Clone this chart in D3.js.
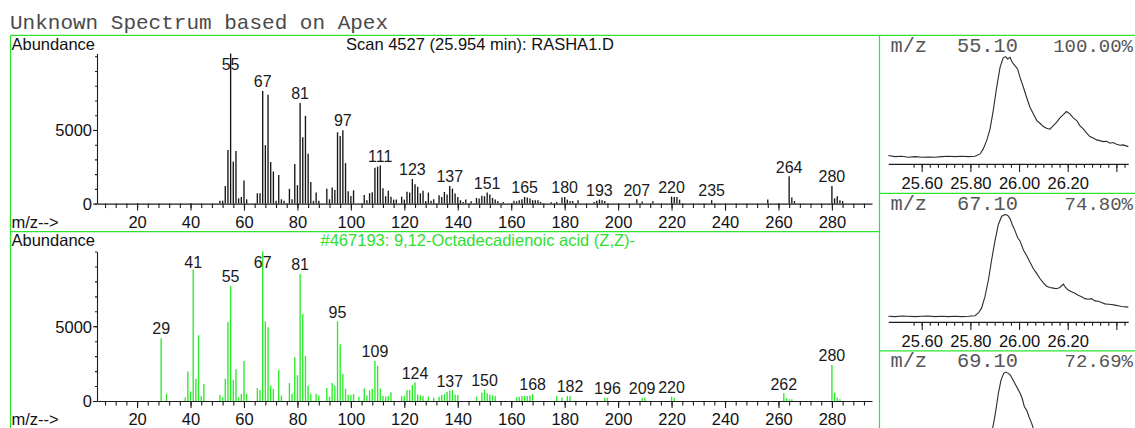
<!DOCTYPE html>
<html>
<head>
<meta charset="utf-8">
<script src="https://cdn.jsdelivr.net/npm/d3@7"></script>
<style>
  html, body { margin: 0; padding: 0; background: #fff; }
  svg { display: block; }
</style>
</head>
<body>
<svg id="chart" width="1135" height="428"></svg>
<script>
// ---------- Scan 4527 (unknown spectrum) ----------
const scanMz = [51,52,53,54,55,56,57,58,59,60,61,65,66,67,68,69,70,71,72,73,74,75,77,78,79,80,81,82,83,84,85,86,87,88,
  91,92,93,94,95,96,97,98,99,100,101,105,106,107,108,109,110,111,112,113,114,115,116,117,119,120,121,122,123,124,125,
  126,127,128,129,130,131,133,134,135,136,137,138,139,140,141,142,143,145,147,148,149,150,151,152,153,154,155,157,
  161,162,163,164,165,166,167,168,169,170,171,175,177,179,180,181,182,183,185,191,192,193,194,195,207,209,213,
  220,221,222,223,235,256,264,265,266,280,281,282,283,284];
const scanAbund = [200,200,1190,3640,10190,2850,3570,360,450,1560,290,700,700,7640,3970,7390,2820,2180,190,1950,290,200,
  1000,290,2690,1250,6830,4510,5960,3390,1470,190,760,200,
  1000,290,1090,920,4840,4590,4980,2750,840,520,900,590,220,700,770,2440,2510,2580,1040,500,880,470,270,270,470,270,810,750,1670,1310,1150,
  700,880,180,750,200,290,560,450,790,610,1200,1020,680,450,230,110,270,160,380,340,540,500,750,610,380,270,180,110,
  200,160,230,290,450,410,340,230,230,230,110,90,110,410,450,270,180,180,230,110,200,270,230,180,290,140,160,
  470,450,450,270,230,270,1850,410,180,1200,360,500,230,180];
const scanPeakLabels = [55,67,81,97,111,123,137,151,165,180,193,207,220,235,264,280];

// ---------- Library hit #467193 ----------
const libMz = [29,31,38,39,40,41,42,43,44,45,51,52,53,54,55,56,57,58,59,60,61,65,66,67,68,69,70,71,73,74,77,78,79,80,81,82,83,84,85,87,88,
  91,92,93,94,95,96,97,98,99,100,101,103,105,106,107,108,109,110,111,112,113,114,115,119,120,121,122,123,124,125,126,127,129,
  131,133,134,135,136,137,138,139,140,147,149,150,151,152,153,154,162,163,164,165,166,167,168,177,179,181,182,
  195,196,209,210,220,221,262,263,264,265,280,281,282,283];
const libAbund = [4200,490,240,1980,640,8800,1490,4400,310,1130,400,240,1510,5290,7690,1420,2130,240,470,2670,490,870,730,9999,5330,4930,1040,800,2070,360,1200,490,2930,1730,8490,5820,3000,1040,490,490,360,
  870,290,1200,1040,5330,3800,1820,820,420,400,470,290,840,360,710,800,2670,2360,840,330,290,330,580,330,330,730,730,1070,1240,440,380,330,290,
  220,290,400,470,620,710,730,440,400,290,560,760,510,440,380,330,240,290,330,330,330,360,470,330,240,330,330,
  220,220,220,220,290,220,510,180,110,110,2400,560,220,110];
const libPeakLabels = [29,41,55,67,81,95,109,124,137,150,168,182,196,209,220,262,280];

const mzTickLabels = [20,40,60,80,100,120,140,160,180,200,220,240,260,280];
const abundTickLabels = [0, 5000];

// ---------- Extracted ion traces ----------
const ionMz = ["55.10", "67.10", "69.10"];
const ionPercent = ["100.00%", "74.80%", "72.69%"];
const ionTimeTickLabels = ["25.60", "25.80", "26.00", "26.20"];

const ion55Time = [25.463,25.490,25.518,25.545,25.573,25.600,25.627,25.655,25.682,25.710,25.737,25.764,25.792,25.819,
  25.840,25.853,25.867,25.881,25.894,25.908,25.922,25.935,25.945,25.953,25.963,25.972,25.983,25.994,26.004,26.018,
  26.031,26.045,26.059,26.073,26.086,26.100,26.113,26.127,26.141,26.154,26.168,26.182,26.195,26.209,26.223,26.237,
  26.250,26.264,26.278,26.291,26.305,26.319,26.332,26.346,26.360,26.374,26.387,26.401,26.415,26.428,26.449];
const ion55Int = [7.8,6.8,7.1,6.2,6.8,6.2,6.5,6.2,6.8,7.1,6.8,7.1,6.8,7.1,
  9.3,14.0,21.7,32.6,49.7,71.4,90.0,98.8,100,97.8,99.4,94.7,91.6,88.5,80.7,71.4,
  62.1,52.8,46.6,40.4,37.9,34.8,33.2,32.3,35.7,38.8,42.9,46.0,48.8,46.6,42.9,40.4,
  35.7,32.6,28.6,25.5,24.2,22.4,21.7,20.8,21.1,19.3,19.9,18.3,17.4,17.7,16.1];

const ion67Time = [25.463,25.490,25.518,25.545,25.573,25.600,25.627,25.655,25.682,25.710,25.737,25.764,25.792,25.819,
  25.833,25.846,25.860,25.874,25.887,25.901,25.915,25.929,25.942,25.953,25.963,25.972,25.983,25.994,26.004,26.018,
  26.031,26.045,26.059,26.073,26.086,26.100,26.113,26.127,26.141,26.154,26.168,26.182,26.191,26.202,26.216,26.230,
  26.243,26.257,26.271,26.284,26.298,26.312,26.326,26.339,26.353,26.367,26.380,26.394,26.408,26.421,26.449];
const ion67Int = [5.2,4.9,5.5,5.2,4.9,5.2,5.5,4.9,5.2,4.9,5.2,4.9,5.2,5.8,
  8.3,12.8,23.5,38.8,57.2,75.5,90.8,98.5,100,99.4,96.3,90.8,85.3,78.6,75.5,67.0,
  61.8,55.7,49.5,45.0,40.4,36.4,33.3,32.1,31.5,30.9,32.1,35.2,32.1,29.7,28.1,26.6,
  24.8,23.5,21.7,21.1,21.7,19.6,19.3,18.0,16.8,16.5,16.2,15.6,15.0,14.4,13.8];

const ion69Time = [25.890,25.898,25.907,25.915,25.926,25.937,25.946,25.956,25.964,25.972,25.983,25.994,26.005,26.013,
  26.022,26.031,26.041,26.052,26.063];
const ion69Int = [46.0,55.3,67.7,80.1,92.5,98.8,100,98.8,97.2,94.1,89.4,84.8,80.1,75.4,67.7,64.6,58.4,52.2,44.4];

// ---------- drawing ----------
const W = 1135, H = 428;
const svg = d3.select("#chart");
const GREEN = "#2fe32f";
const BAR_GREEN = "#27ec27";
const INK = "#1c1c1c";
const SANS = "'Liberation Sans', Arial, Helvetica, sans-serif";
const MONO = "'Liberation Mono', 'Courier New', monospace";

svg.append("rect").attr("width", W).attr("height", H).attr("fill", "#fff");

// page heading
svg.append("text")
  .attr("x", 10).attr("y", 29.3)
  .attr("font-family", MONO).attr("font-size", 21)
  .attr("fill", "#4a4a4a")
  .text("Unknown Spectrum based on Apex");

// frame lines
const frame = svg.append("g").attr("stroke", GREEN).attr("stroke-width", 1.2).attr("fill", "none");
frame.append("line").attr("x1", 10.5).attr("x2", W).attr("y1", 35.3).attr("y2", 35.3);
frame.append("line").attr("x1", 10.5).attr("x2", 10.5).attr("y1", 35.3).attr("y2", H);
frame.append("line").attr("x1", 879.5).attr("x2", 879.5).attr("y1", 35.3).attr("y2", H);
frame.append("line").attr("x1", 10.5).attr("x2", 879.5).attr("y1", 231.7).attr("y2", 231.7);

const mzScale = d3.scaleLinear().domain([5, 295]).range([97, 872]);

function spectrum(cfg) {
  const g = svg.append("g");
  const y = d3.scaleLinear().domain([0, d3.max(cfg.abund)]).range([cfg.plotBottom, cfg.plotTop]);

  // headings
  g.append("text").attr("x", 11.5).attr("y", cfg.frameTop + 14.3)
    .attr("font-family", SANS).attr("font-size", 16.5).attr("fill", "#111").text("Abundance");
  g.append("text").attr("x", cfg.titleX).attr("y", cfg.frameTop + 14.3)
    .attr("font-family", SANS).attr("font-size", 16.5).attr("fill", cfg.titleColor).text(cfg.title);
  g.append("text").attr("x", 11.5).attr("y", cfg.plotBottom + 24)
    .attr("font-family", SANS).attr("font-size", 16.5).attr("fill", "#111").text("m/z-->");

  // bars
  const bars = cfg.mz.map((m, i) => ({ mz: m, v: cfg.abund[i] }));
  g.append("g").selectAll("line").data(bars).join("line")
    .attr("x1", d => mzScale(d.mz)).attr("x2", d => mzScale(d.mz))
    .attr("y1", y(0)).attr("y2", d => y(d.v))
    .attr("stroke", cfg.barColor).attr("stroke-width", 1.35);

  // axes
  const minorX = d3.axisBottom(mzScale).tickValues(d3.range(8, 293, 4)).tickSize(4.5).tickSizeOuter(0).tickFormat("");
  const majorX = d3.axisBottom(mzScale).tickValues(mzTickLabels).tickSize(7).tickSizeOuter(0).tickFormat(d3.format("d"));
  const minorY = d3.axisLeft(y).tickValues(d3.range(0, 10001, 1000)).tickSize(2).tickSizeOuter(0).tickFormat("");
  const majorY = d3.axisLeft(y).tickValues(abundTickLabels).tickSize(4).tickSizeOuter(0).tickFormat(d3.format("d"));

  const gx1 = g.append("g").attr("transform", `translate(0,${cfg.plotBottom})`).call(minorX);
  const gx2 = g.append("g").attr("transform", `translate(0,${cfg.plotBottom})`).call(majorX);
  gx2.select(".domain").remove();
  const gy1 = g.append("g").attr("transform", "translate(97,0)").call(minorY);
  const gy2 = g.append("g").attr("transform", "translate(97,0)").call(majorY);
  gy2.select(".domain").remove();
  [gx1, gx2, gy1, gy2].forEach(a => a.attr("color", INK).selectAll("path,line").attr("stroke-width", 1.1));
  gx2.selectAll("text").attr("y", 24).attr("dy", 0)
    .attr("font-family", SANS).attr("font-size", 16.5).attr("fill", "#111");
  gy2.selectAll("text").attr("x", -5).attr("dy", "0.36em")
    .attr("font-family", SANS).attr("font-size", 16.5).attr("fill", "#111");

  // peak labels
  const labelData = cfg.labels.map(m => ({ mz: m, v: cfg.abund[cfg.mz.indexOf(m)] }));
  g.append("g").selectAll("text").data(labelData).join("text")
    .attr("x", d => mzScale(d.mz))
    .attr("y", d => Math.max(y(d.v) - 3.8, cfg.plotTop + 16.5))
    .attr("text-anchor", "middle")
    .attr("font-family", SANS).attr("font-size", 16).attr("fill", "#1a1a1a")
    .text(d => d.mz);
}

spectrum({
  frameTop: 35.3, plotTop: 53.5, plotBottom: 203.6,
  mz: scanMz, abund: scanAbund, labels: scanPeakLabels,
  barColor: "#151515",
  title: "Scan 4527 (25.954 min): RASHA1.D", titleColor: "#111", titleX: 346
});
spectrum({
  frameTop: 231.7, plotTop: 251.5, plotBottom: 401,
  mz: libMz, abund: libAbund, labels: libPeakLabels,
  barColor: BAR_GREEN,
  title: "#467193: 9,12-Octadecadienoic acid (Z,Z)-", titleColor: "#2ee02e", titleX: 320.5
});

// ion chromatogram panels
const ionX = d3.scaleLinear().domain([25.6, 26.2]).range([921.7, 1067.7]);
const ionAxisEnds = [25.4625, 26.4485];
const ionPanelTops = [35.3, 193.3, 350.8];
const ionTraces = [
  { t: ion55Time, v: ion55Int },
  { t: ion67Time, v: ion67Int },
  { t: ion69Time, v: ion69Int }
];

const clip = svg.append("defs").append("clipPath").attr("id", "ionclip");
clip.append("rect").attr("x", 880).attr("y", 0).attr("width", 255).attr("height", H);

ionPanelTops.forEach((top, i) => {
  const g = svg.append("g").attr("clip-path", "url(#ionclip)");
  const y = d3.scaleLinear().domain([0, 100]).range([top + 128.6, top + 21.3]);

  if (i > 0) {
    g.append("line").attr("x1", 879.5).attr("x2", W).attr("y1", top).attr("y2", top)
      .attr("stroke", GREEN).attr("stroke-width", 1.2);
  }

  // heading: m/z, ion mass, relative percentage
  const head = g.append("g").attr("font-family", MONO).attr("fill", "#555");
  head.append("text").attr("x", 890.5).attr("y", top + 16.3).attr("font-size", 20.3).text("m/z");
  head.append("text").attr("x", 957).attr("y", top + 16.3).attr("font-size", 20.3).text(ionMz[i]);
  head.append("text").attr("x", W - 2).attr("y", top + 16.3).attr("font-size", 19)
    .attr("text-anchor", "end").text(ionPercent[i]);

  // trace
  const pts = ionTraces[i].t.map((t, k) => [t, ionTraces[i].v[k]]);
  g.append("path").datum(pts)
    .attr("d", d3.line().x(d => ionX(d[0])).y(d => y(d[1])))
    .attr("fill", "none").attr("stroke", "#2b2b2b").attr("stroke-width", 1.1);

  // time axis (only the panels whose axis falls inside the page)
  const axisY = top + 128.6;
  if (axisY + 25 > H) return;
  const span = d3.scaleLinear().domain(ionAxisEnds).range(ionAxisEnds.map(ionX));
  const minor = d3.range(25.6 - 1 / 30, 26.445, 1 / 30);
  const major = [25.6, 25.8, 26.0, 26.2, 26.4];
  const gm = g.append("g").attr("transform", `translate(0,${axisY})`)
    .call(d3.axisBottom(span).tickValues(minor).tickSize(3.8).tickSizeOuter(0).tickFormat(""));
  const gM = g.append("g").attr("transform", `translate(0,${axisY})`)
    .call(d3.axisBottom(ionX).tickValues(major).tickSize(8).tickSizeOuter(0)
      .tickFormat((d, k) => ionTimeTickLabels[k] || ""));
  gM.select(".domain").remove();
  [gm, gM].forEach(a => a.attr("color", INK).selectAll("path,line").attr("stroke-width", 1.1));
  gM.selectAll("text").attr("y", 25).attr("dy", 0)
    .attr("font-family", SANS).attr("font-size", 16.5).attr("fill", "#111");
});
</script>
</body>
</html>
